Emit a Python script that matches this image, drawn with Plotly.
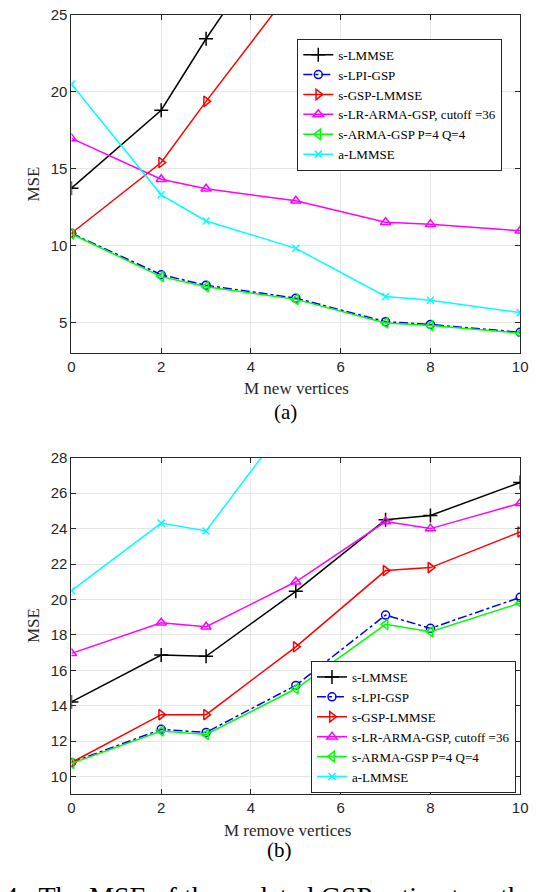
import plotly.graph_objects as go

# ---------------- data ----------------
x_vals = [0, 2, 3, 5, 7, 8, 10]
series_names = ["s-LMMSE", "s-LPI-GSP", "s-GSP-LMMSE",
                "s-LR-ARMA-GSP, cutoff =36", "s-ARMA-GSP P=4 Q=4", "a-LMMSE"]

# (a) M new vertices
lmmse_a = [13.73, 18.8, 23.45, 32.0, 40.0, 45.0, 55.0]
lpi_a = [10.8, 8.1, 7.42, 6.58, 5.05, 4.87, 4.36]
gsp_a = [10.8, 15.4, 19.38, 27.0, 33.0, 36.0, 42.0]
lrarma_a = [16.97, 14.31, 13.69, 12.92, 11.52, 11.38, 10.96]
arma_a = [10.75, 7.98, 7.32, 6.5, 4.97, 4.8, 4.3]
almmse_a = [20.5, 13.3, 11.6, 9.82, 6.69, 6.44, 5.64]

# (b) M remove vertices
lmmse_b = [14.22, 16.86, 16.79, 20.46, 24.5, 24.74, 26.6]
lpi_b = [10.8, 12.67, 12.5, 15.15, 19.12, 18.37, 20.12]
gsp_b = [10.8, 13.5, 13.5, 17.33, 21.63, 21.8, 23.81]
lrarma_b = [16.96, 18.69, 18.46, 21.0, 24.4, 24.0, 25.43]
arma_b = [10.75, 12.58, 12.38, 14.96, 18.6, 18.18, 19.8]
almmse_b = [20.5, 24.31, 23.87, 30.6, 33.0, 34.0, 36.0]

x_ticks = [0, 2, 4, 6, 8, 10]
y_ticks_a = [5, 10, 15, 20, 25]
y_ticks_b = [10, 12, 14, 16, 18, 20, 22, 24, 26, 28]

# ---------------- styles ----------------
styles = [
    dict(color="#000000", symbol="cross-thin-open", dash="solid", size=10),
    dict(color="#0000ff", symbol="circle-open", dash="dashdot", size=8),
    dict(color="#ff0000", symbol="triangle-right-open", dash="solid", size=9),
    dict(color="#ff00ff", symbol="triangle-up-open", dash="solid", size=9),
    dict(color="#00ff00", symbol="triangle-left-open", dash="solid", size=9),
    dict(color="#00ffff", symbol="x-thin-open", dash="solid", size=7),
]

W, H = 536, 892


def px_x(p):
    return p / W


def px_y(p):
    return 1 - p / H


fig = go.Figure()

data_a = [lmmse_a, lpi_a, gsp_a, lrarma_a, arma_a, almmse_a]
data_b = [lmmse_b, lpi_b, gsp_b, lrarma_b, arma_b, almmse_b]

for name, ys, st in zip(series_names, data_a, styles):
    fig.add_trace(go.Scatter(
        x=x_vals, y=ys, name=name, mode="lines+markers",
        xaxis="x", yaxis="y", legend="legend",
        line=dict(color=st["color"], width=1.5, dash=st["dash"]),
        marker=dict(symbol=st["symbol"], size=st["size"], color=st["color"],
                    line=dict(color=st["color"], width=1.5)),
    ))
for name, ys, st in zip(series_names, data_b, styles):
    fig.add_trace(go.Scatter(
        x=x_vals, y=ys, name=name, mode="lines+markers",
        xaxis="x2", yaxis="y2", legend="legend2",
        line=dict(color=st["color"], width=1.5, dash=st["dash"]),
        marker=dict(symbol=st["symbol"], size=st["size"], color=st["color"],
                    line=dict(color=st["color"], width=1.5)),
    ))

tick_font = dict(family="Liberation Sans, Arial, sans-serif", size=15, color="#262626")
serif = "Liberation Serif, Times New Roman, serif"

axis_common = dict(
    showline=True, linecolor="#262626", linewidth=1, mirror="ticks",
    ticks="inside", ticklen=5, tickcolor="#262626", tickwidth=1,
    showgrid=True, gridcolor="#e6e6e6", gridwidth=1, zeroline=False,
    tickfont=tick_font, ticklabeloverflow="allow",
)

xdom = [px_x(69), px_x(528)]
fig.update_layout(
    width=W, height=H,
    margin=dict(l=0, r=0, t=0, b=0),
    paper_bgcolor="white", plot_bgcolor="white",
    xaxis=dict(domain=xdom, range=[0, 10], tickvals=x_ticks, anchor="y", **axis_common),
    yaxis=dict(domain=[px_y(347.7), px_y(6)], range=[3, 25], tickvals=y_ticks_a,
               anchor="x", **axis_common),
    xaxis2=dict(domain=xdom, range=[0, 10], tickvals=x_ticks, anchor="y2", **axis_common),
    yaxis2=dict(domain=[px_y(793.4), px_y(453.3)], range=[9, 28], tickvals=y_ticks_b,
                anchor="x2", **axis_common),
    legend=dict(x=px_x(300), y=px_y(30), xanchor="left", yanchor="top",
                bgcolor="white", bordercolor="#262626", borderwidth=1,
                font=dict(family=serif, size=13, color="#000000"),
                itemwidth=30, tracegroupgap=0),
    legend2=dict(x=px_x(314), y=px_y(792), xanchor="left", yanchor="bottom",
                 bgcolor="white", bordercolor="#262626", borderwidth=1,
                 font=dict(family=serif, size=13, color="#000000"),
                 itemwidth=30, tracegroupgap=0),
    showlegend=True,
)

annotations = [
    dict(text="MSE", x=px_x(30), y=px_y(177), textangle=-90, font=dict(family=serif, size=17, color="#262626")),
    dict(text="MSE", x=px_x(30), y=px_y(623), textangle=-90, font=dict(family=serif, size=17, color="#262626")),
    dict(text="M new vertices", x=px_x(299), y=px_y(383), font=dict(family=serif, size=17, color="#262626")),
    dict(text="M remove vertices", x=px_x(290), y=px_y(830), font=dict(family=serif, size=17, color="#262626")),
    dict(text="(a)", x=px_x(288), y=px_y(407), font=dict(family=serif, size=21, color="#000000")),
    dict(text="(b)", x=px_x(282), y=px_y(850), font=dict(family=serif, size=21, color="#000000")),
]
for a in annotations:
    fig.add_annotation(xref="paper", yref="paper", showarrow=False,
                       xanchor="center", yanchor="middle", **a)

fig.add_annotation(text="4.  The MSE of the updated GSP estimators th",
                   xref="paper", yref="paper", x=px_x(-2), y=px_y(897),
                   xanchor="left", yanchor="middle", showarrow=False,
                   font=dict(family=serif, size=28, color="#000000"))

fig.write_html("out.html", config={"displayModeBar": False},
               post_script="document.body.style.margin='0px';document.body.style.overflow='hidden';")
